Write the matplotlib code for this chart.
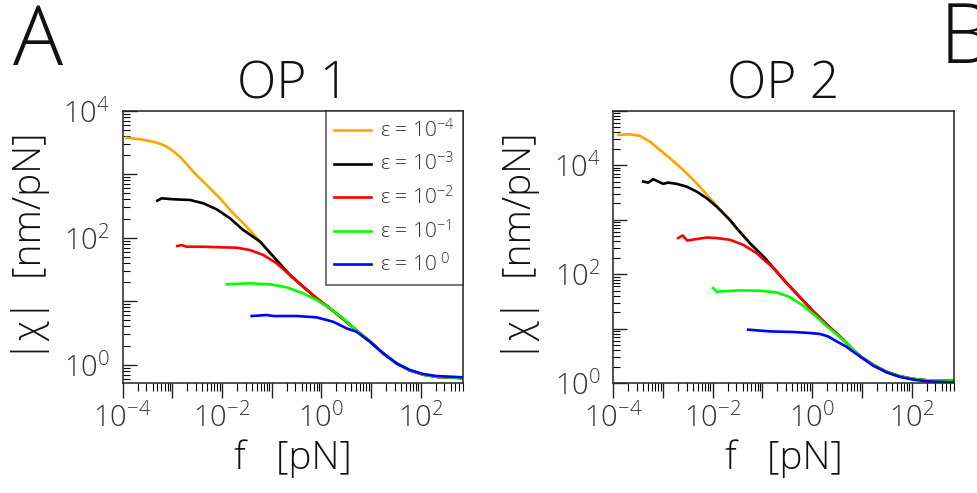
import numpy as np
import matplotlib
matplotlib.use("Agg")
import matplotlib.pyplot as plt
from matplotlib import font_manager
from matplotlib.ticker import LogLocator, FuncFormatter, NullFormatter

# a light sans like the original, if one is installed
fam = 'Lato'
weight = 'normal'
for name in ['Open Sans', 'Lato', 'Roboto', 'Noto Sans']:
    if any(f.name == name and f.weight == 300 and f.style == 'normal'
           for f in font_manager.fontManager.ttflist):
        fam = name
        weight = 300
        break

plt.rcParams['font.family'] = [fam, 'DejaVu Sans']
plt.rcParams['font.weight'] = weight
plt.rcParams['axes.titleweight'] = weight
plt.rcParams['axes.labelweight'] = weight
plt.rcParams['mathtext.fontset'] = 'custom'
plt.rcParams['mathtext.rm'] = fam + (':weight=300' if weight == 300 else '')
plt.rcParams['mathtext.it'] = plt.rcParams['mathtext.rm']

# ---- data as log10 values ----
eps_labels = ['ε = 10$^{-4}$', 'ε = 10$^{-3}$', 'ε = 10$^{-2}$',
              'ε = 10$^{-1}$', 'ε = 10$^{\\ 0}$']
colors = ['#FFA500', 'black', '#FF0000', '#00FF00', '#0000FF']

# OP 1 : shared diagonal + tail that the curves join
op1_tail_f = [-1.237, -0.936, -0.632, -0.366, -0.097, 0.171, 0.439, 0.708,
              0.976, 1.243, 1.513, 1.781, 2.048, 2.318, 2.853]
op1_tail_x = [1.94, 1.676, 1.413, 1.228, 1.046, 0.888, 0.72, 0.54,
              0.37, 0.18, 0.02, -0.09, -0.155, -0.19, -0.21]

op1_orange_f = [-3.92, -3.652, -3.384, -3.25, -3.115, -2.98, -2.847, -2.579, -2.310, -2.042, -1.775, -1.505]
op1_orange_x = [3.575, 3.55, 3.512, 3.48, 3.433, 3.36, 3.276, 3.039, 2.830, 2.620, 2.384, 2.173]
op1_black_f = [-3.304, -3.215, -2.982, -2.646, -2.378, -2.109, -1.841, -1.573]
op1_black_x = [2.583, 2.620, 2.605, 2.594, 2.542, 2.447, 2.306, 2.121]
op1_red_f = [-2.901, -2.813, -2.712, -2.378, -2.042, -1.706, -1.439, -1.171, -0.901]
op1_red_x = [1.869, 1.885, 1.858, 1.858, 1.849, 1.843, 1.806, 1.728, 1.597]
op1_green_f = [-1.907, -1.439, -1.036, -0.700, -0.366, -0.097, 0.171, 0.439]
op1_green_x = [1.266, 1.282, 1.266, 1.219, 1.124, 1.019, 0.888, 0.731]
op1_blue_f = [-1.404, -1.103, -0.970, -0.499, -0.097, 0.237, 0.507, 0.708, 0.841,
              0.976, 1.243, 1.513, 1.781, 2.048, 2.318, 2.853]
op1_blue_x = [0.767, 0.783, 0.767, 0.767, 0.746, 0.677, 0.573, 0.520, 0.441,
              0.362, 0.180, 0.022, -0.083, -0.146, -0.178, -0.198]

# OP 2
op2_tail_f = [-2.056, -1.789, -1.520, -1.252, -0.951, -0.784, -0.515, -0.247, 0.020,
              0.289, 0.422, 0.556, 0.691, 0.824, 0.959, 1.226, 1.495, 1.763,
              2.030, 2.299, 2.834]
op2_tail_x = [3.396, 3.121, 2.846, 2.571, 2.297, 2.12, 1.84, 1.58, 1.32,
              1.08, 0.97, 0.86, 0.74, 0.617, 0.50, 0.34, 0.21, 0.128,
              0.08, 0.055, 0.044]

op2_orange_f = [-3.899, -3.664, -3.463, -3.262, -3.061, -2.860, -2.593, -2.324]
op2_orange_x = [4.555, 4.568, 4.537, 4.432, 4.280, 4.128, 3.914, 3.670]
op2_black_f = [-3.397, -3.296, -3.196, -3.095, -2.995, -2.894, -2.726, -2.525,
               -2.324, -2.123, -1.922, -1.654]
op2_black_x = [3.700, 3.681, 3.744, 3.700, 3.658, 3.681, 3.658, 3.608,
               3.516, 3.396, 3.242, 2.998]
op2_red_f = [-2.693, -2.605, -2.513, -2.324, -2.123, -1.922, -1.654, -1.387, -1.118, -0.951]
op2_red_x = [2.663, 2.711, 2.619, 2.645, 2.674, 2.663, 2.632, 2.540, 2.388, 2.25]
op2_green_f = [-1.990, -1.910, -1.856, -1.453, -1.051, -0.716, -0.449, -0.181,
               0.088, 0.289, 0.422, 0.556, 0.691]
op2_green_x = [1.747, 1.674, 1.685, 1.703, 1.698, 1.667, 1.582, 1.423,
               1.22, 1.05, 0.95, 0.85, 0.74]
op2_blue_f = [-1.286, -0.850, -0.382, -0.046, 0.155, 0.320, 0.490, 0.691, 0.824,
              0.959, 1.226, 1.495, 1.763, 2.030, 2.299, 2.834]
op2_blue_x = [0.984, 0.952, 0.941, 0.923, 0.905, 0.86, 0.77, 0.67, 0.58,
              0.495, 0.324, 0.201, 0.117, 0.068, 0.037, 0.018]


def join(f, x, tf, tx):
    # own part of a curve followed by the shared part that starts after it
    f = list(f)
    x = list(x)
    for a, b in zip(tf, tx):
        if a > f[-1]:
            f.append(a)
            x.append(b)
    return 10 ** np.array(f), 10 ** np.array(x)


op1 = [join(op1_orange_f, op1_orange_x, op1_tail_f, op1_tail_x),
       join(op1_black_f, op1_black_x, op1_tail_f, op1_tail_x),
       join(op1_red_f, op1_red_x, op1_tail_f, op1_tail_x),
       join(op1_green_f, op1_green_x, op1_tail_f, op1_tail_x),
       (10 ** np.array(op1_blue_f), 10 ** np.array(op1_blue_x))]
op2 = [join(op2_orange_f, op2_orange_x, op2_tail_f, op2_tail_x),
       join(op2_black_f, op2_black_x, op2_tail_f, op2_tail_x),
       join(op2_red_f, op2_red_x, op2_tail_f, op2_tail_x),
       join(op2_green_f, op2_green_x, op2_tail_f, op2_tail_x),
       (10 ** np.array(op2_blue_f), 10 ** np.array(op2_blue_x))]

fig = plt.figure(figsize=(9.77, 4.93), dpi=100)
ax1 = fig.add_axes([0.1256, 0.2225, 0.348, 0.553])
ax2 = fig.add_axes([0.6277, 0.2225, 0.3484, 0.553])


def even_pow(v, pos):
    e = int(round(np.log10(v)))
    if e % 2:
        return ''
    return '10$^{%d}$' % e


for ax, curves, ylim, title in [(ax1, op1, (0.51, 1e4), 'OP 1'),
                                (ax2, op2, (1, 1e5), 'OP 2')]:
    for (f, x), c, lab in zip(curves, colors, eps_labels):
        ax.plot(f, x, color=c, lw=1.9, label=lab)
    ax.set_xscale('log')
    ax.set_yscale('log')
    ax.set_xlim(1e-4, 7e2)
    ax.set_ylim(*ylim)
    for a in (ax.xaxis, ax.yaxis):
        a.set_major_locator(LogLocator(base=10, numticks=20))
        a.set_minor_locator(LogLocator(base=10, subs=np.arange(2, 10), numticks=200))
        a.set_major_formatter(FuncFormatter(even_pow))
        a.set_minor_formatter(NullFormatter())
    ax.tick_params(axis='x', which='major', direction='out', length=10.5, width=1,
                   labelsize=21, pad=4, colors='#222222', labelcolor='#333333')
    ax.tick_params(axis='x', which='minor', direction='out', length=5.5, width=0.8)
    ax.tick_params(axis='y', which='major', direction='in', length=10, width=1,
                   labelsize=21, pad=9, colors='#222222', labelcolor='#333333')
    ax.tick_params(axis='y', which='minor', direction='in', length=5, width=0.8)
    for s in ax.spines.values():
        s.set_linewidth(1.1)
        s.set_color('#222222')
    ax.set_xlabel('f   [pN]', fontsize=28, labelpad=4, color='#111111')
    ax.set_ylabel('|χ|  [nm/pN]', fontsize=28, labelpad=10, color='#111111')
    ax.set_title(title, fontsize=37, pad=6, color='#111111')

leg = ax1.legend(loc='upper right', fontsize=15, frameon=True, fancybox=False,
                 borderaxespad=0, handlelength=1.8, handletextpad=0.4,
                 labelspacing=0.5, borderpad=0.4)
leg.get_frame().set_edgecolor('#222222')
leg.get_frame().set_linewidth(1.1)
for t in leg.get_texts():
    t.set_color('#333333')

fig.text(0.013, 0.868, 'A', fontsize=60, color='#111111')
fig.text(0.962, 0.872, 'B', fontsize=60, color='#111111')

fig.savefig('out.png', dpi=100)
